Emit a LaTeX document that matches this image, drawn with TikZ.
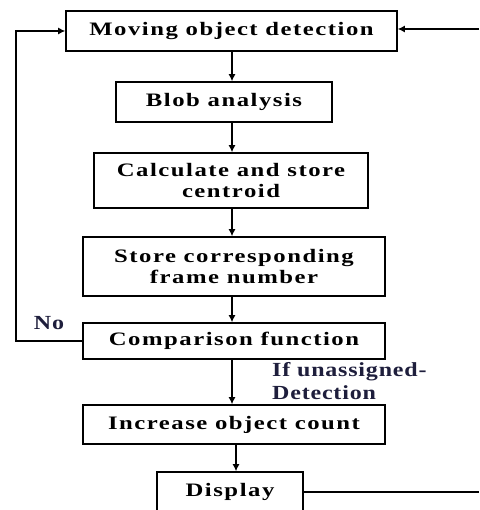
\documentclass[tikz,border=0pt]{standalone}
\usepackage{fontspec}
\setmainfont{Liberation Serif}
\newfontfamily\boxfont[FakeStretch=1.3, LetterSpace=8]{Liberation Serif}
\newfontfamily\notefont[FakeStretch=1.2, LetterSpace=4]{Liberation Serif}
\usetikzlibrary{arrows.meta}
\definecolor{notecol}{RGB}{30,30,60}
\tikzset{
  stage/.style={draw, line width=1.6pt, align=center, inner sep=0pt,
    font=\boxfont\bfseries\fontsize{19}{21}\selectfont},
  flow/.style={-{Latex[length=7pt,width=7pt]}, line width=1.2pt},
  note/.style={text=notecol, align=left, inner sep=0pt,
    font=\notefont\bfseries\fontsize{20}{23}\selectfont}
}
\begin{document}
\begin{tikzpicture}[x=1pt, y=1pt]
			\useasboundingbox (0,0) rectangle (479,-510);
			\node[stage, minimum width=331pt, minimum height=40pt] (detect) at (231.5,-31) {Moving object detection};
			\node[stage, minimum width=216pt, minimum height=40pt] (blob) at (224,-102) {Blob analysis};
			\node[stage, minimum width=274pt, minimum height=55pt] (centroid) at (231,-180.5) {Calculate and store\\centroid};
			\node[stage, minimum width=302pt, minimum height=59pt] (frame) at (234,-266.5) {Store corresponding\\frame number};
			\node[stage, minimum width=302pt, minimum height=36pt] (compare) at (234,-341) {Comparison function};
			\node[stage, minimum width=302pt, minimum height=39pt] (count) at (234,-424.5) {Increase object count};
			\node[stage, minimum width=146pt, minimum height=40pt] (display) at (230,-492) {Display};
			\coordinate (mainx) at (232,0);
			\coordinate (leftx) at (16,0);
			\coordinate (topin) at (479,-29);
			\coordinate (botout) at (479,-492);
			\draw[flow] (detect.south -| mainx) -- (blob.north -| mainx);
			\draw[flow] (blob.south -| mainx) -- (centroid.north -| mainx);
			\draw[flow] (centroid.south -| mainx) -- (frame.north -| mainx);
			\draw[flow] (frame.south -| mainx) -- (compare.north -| mainx);
			\draw[flow] (compare.south -| mainx) -- (count.north -| mainx);
			\draw[flow] ([xshift=2pt]count.south) -- ([xshift=6pt]display.north);
			\draw[flow] (compare.west) -- (compare.west -| leftx) |- (detect.west);
			\draw[flow] (topin) -- (topin -| detect.east);
			\draw[line width=1.2pt] (display.east) -- (botout);
			\node[note] (nolabel) at (49,-323) {No};
			\node[note, anchor=north west] (unassigned) at (272,-362) {If unassigned-\\Detection};
		\end{tikzpicture}
\end{document}
